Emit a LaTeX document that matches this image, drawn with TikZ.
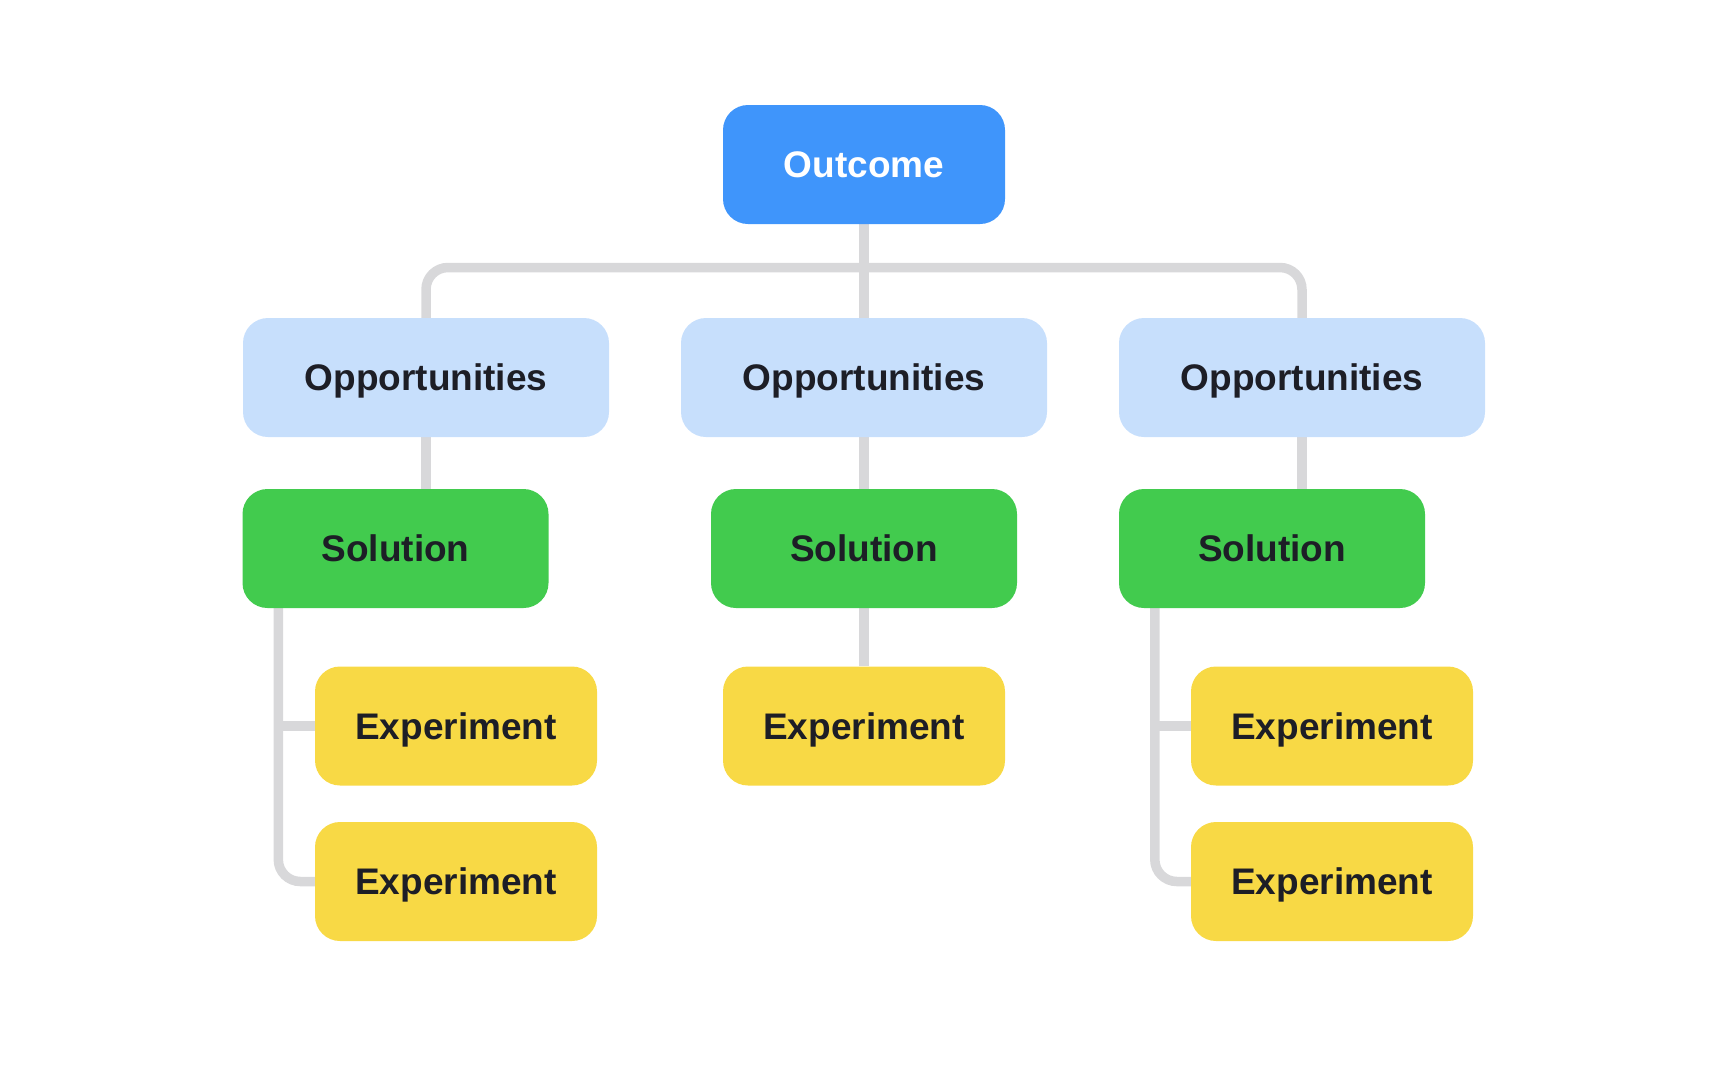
\documentclass[tikz,border=0pt]{standalone}
\usepackage{fontspec}
\setmainfont{Liberation Sans}
\usetikzlibrary{backgrounds}
\definecolor{outblue}{RGB}{63,149,251}
\definecolor{opblue}{RGB}{199,223,252}
\definecolor{solgreen}{RGB}{66,203,78}
\definecolor{expyellow}{RGB}{248,217,69}
\definecolor{txtdark}{RGB}{29,30,38}
\definecolor{conngray}{RGB}{216,216,218}
\tikzset{
  box/.style={rectangle, rounded corners=25pt, inner sep=0pt, minimum height=119pt,
    font=\bfseries\fontsize{37}{40}\selectfont, text=txtdark, text height=26.5pt, text depth=0pt},
  outbox/.style={box, fill=outblue, text=white, minimum width=282pt},
  opbox/.style={box, fill=opblue, minimum width=366pt},
  solbox/.style={box, fill=solgreen, minimum width=306pt},
  expbox/.style={box, fill=expyellow, minimum width=282pt},
  conn/.style={draw=conngray, line width=9.5pt, rounded corners=22pt}
}
\begin{document}
\begin{tikzpicture}[x=1pt,y=-1pt]
\useasboundingbox (0,0) rectangle (1728,1080);
% nodes
\node[outbox] (out) at (864,164.5) {Outcome};
\node[opbox] (o1) at (426,377.5) {Opportunities};
\node[opbox] (o2) at (864,377.5) {Opportunities};
\node[opbox] (o3) at (1302,377.5) {Opportunities};
\node[solbox] (s1) at (395.5,548.5) {Solution};
\node[solbox] (s2) at (864,548.5) {Solution};
\node[solbox] (s3) at (1272,548.5) {Solution};
\node[expbox] (e11) at (456,726) {Experiment};
\node[expbox] (e12) at (456,881.5) {Experiment};
\node[expbox] (e2) at (864,726) {Experiment};
\node[expbox] (e31) at (1332,726) {Experiment};
\node[expbox] (e32) at (1332,881.5) {Experiment};
\coordinate (bus) at (864,267.5);
% connectors behind the nodes
\begin{scope}[on background layer]
\draw[conn] (o1.north) |- (bus) -| (o3.north);
\draw[conn] (out.south) -- (o2.north);
\draw[conn] (o1.south) -- (o1.south |- s1.north);
\draw[conn] (o2.south) -- (s2.north);
\draw[conn] (o3.south) -- (o3.south |- s3.north);
\draw[conn] (s2.south) -- (e2.north);
\draw[conn] ([xshift=36pt]s1.south west) |- (e12.west);
\draw[conn] (e11.west) -- ++(-36,0);
\draw[conn] ([xshift=36pt]s3.south west) |- (e32.west);
\draw[conn] (e31.west) -- ++(-36,0);
\end{scope}
\end{tikzpicture}
\end{document}
